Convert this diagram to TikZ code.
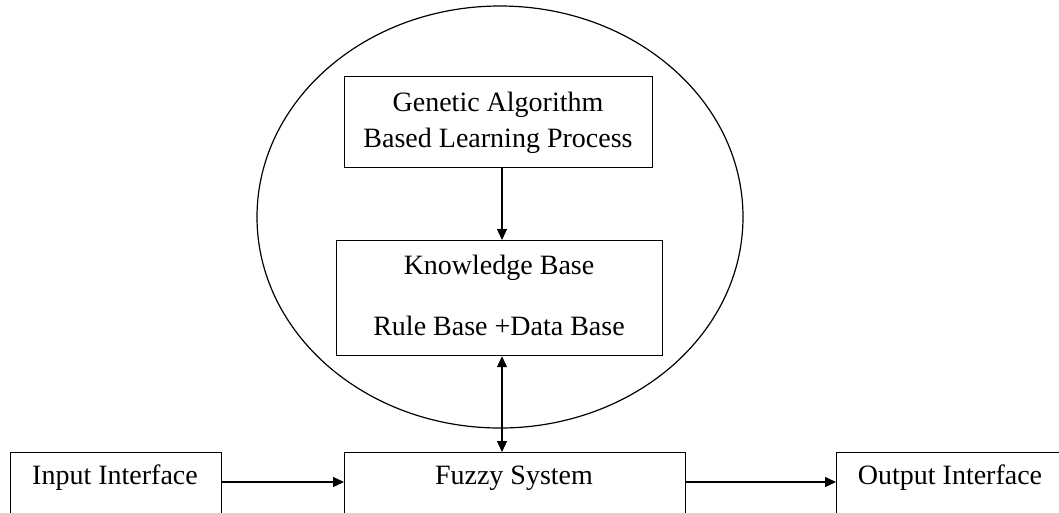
\documentclass[tikz,border=0pt]{standalone}
\usepackage{fontspec}
\setmainfont{Liberation Serif}
\usetikzlibrary{arrows.meta}
\begin{document}
\begin{tikzpicture}[x=1pt,y=-1pt,
  box/.style={draw, line width=1.2pt, inner sep=0pt, anchor=north west},
  lbl/.style={inner sep=0pt, anchor=base, font=\fontsize{28}{34}\selectfont},
  conn/.style={line width=1.2pt, -{Triangle[length=11pt,width=10pt]}},
  biconn/.style={line width=1.2pt, {Triangle[length=11pt,width=10pt]}-{Triangle[length=11pt,width=10pt]}}]
  \clip (0,0) rectangle (1059,512);
  \fill[white] (0,0) rectangle (1059,512);

  % learning loop ellipse
  \draw[line width=1.2pt] (500,217) ellipse [x radius=243, y radius=211];

  % boxes
  \node[box, minimum width=308pt, minimum height=91pt] (ga) at (344,76) {};
  \node[box, minimum width=326pt, minimum height=115pt] (kb) at (336,240) {};
  \node[box, minimum width=211pt, minimum height=100pt] (in) at (10,452) {};
  \node[box, minimum width=341pt, minimum height=100pt] (fz) at (344,452) {};
  \node[box, minimum width=230pt, minimum height=100pt] (out) at (836,452) {};

  % texts
  \node[lbl] (t1) at (498,111) {Genetic Algorithm};
  \node[lbl] (t2) at (498,147) {Based Learning Process};
  \node[lbl] (t3) at (499,274) {Knowledge Base};
  \node[lbl] (t4) at (499,335) {Rule Base +Data Base};
  \node[lbl] (t5) at (115,484) {Input Interface};
  \node[lbl] (t6) at (514,484) {Fuzzy System};
  \node[lbl] (t7) at (950,484) {Output Interface};

  % connectors
  \coordinate (vx) at (502,0);
  \coordinate (hy) at (0,482);
  \draw[conn] (ga.south -| vx) -- (kb.north -| vx);
  \draw[biconn] (kb.south -| vx) -- (fz.north -| vx);
  \draw[conn] (in.east |- hy) -- (fz.west |- hy);
  \draw[conn] (fz.east |- hy) -- (out.west |- hy);
\end{tikzpicture}
\end{document}
